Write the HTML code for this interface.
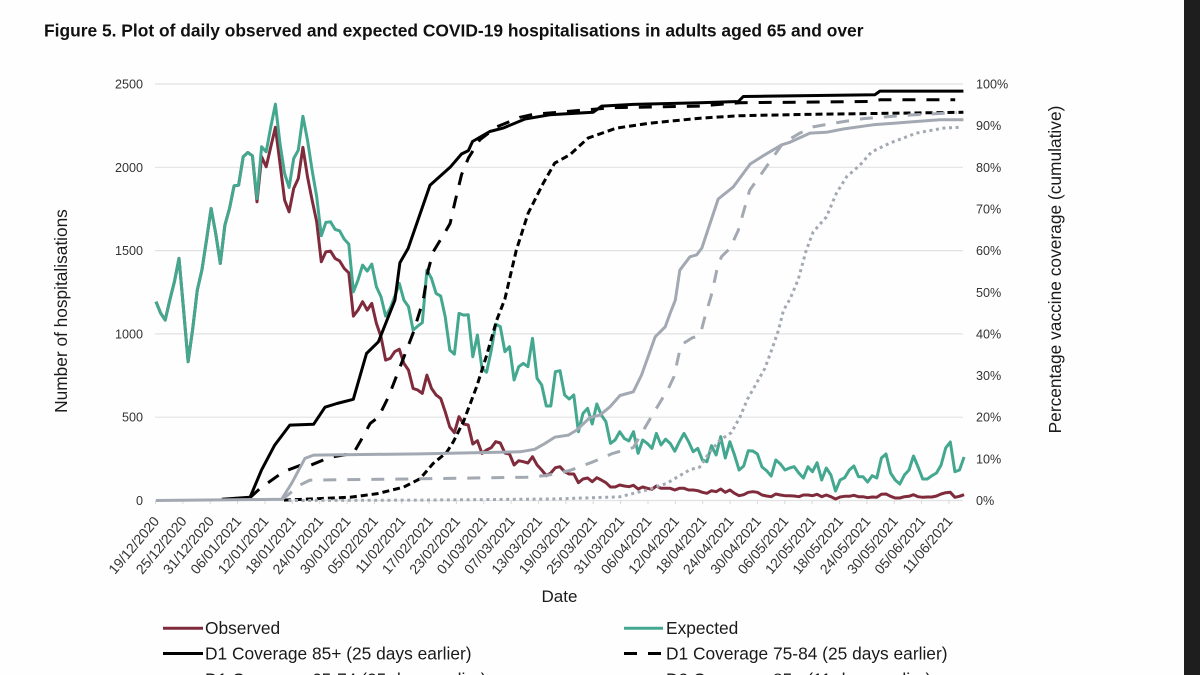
<!DOCTYPE html>
<html lang="en">
<head>
<meta charset="utf-8">
<title>Figure 5</title>
<style>
html,body{margin:0;padding:0;background:#fefefe;}
#stage{position:relative;width:1200px;height:675px;overflow:hidden;background:#fefefe;}
#chart{position:absolute;left:0;top:0;filter:blur(0.35px);}
#edge{position:absolute;left:1184px;top:0;width:16px;height:675px;background:#1e1e1e;}
text{font-family:"Liberation Sans",sans-serif;}
</style>
</head>
<body>
<div id="stage">
<svg id="chart" width="1200" height="675" viewBox="0 0 1200 675" xmlns="http://www.w3.org/2000/svg">
  <text x="44" y="36.5" font-size="17.4" font-weight="700" fill="#111">Figure 5. Plot of daily observed and expected COVID-19 hospitalisations in adults aged 65 and over</text>
  <text transform="translate(67,311) rotate(-90)" font-size="17.3" text-anchor="middle" fill="#1a1a1a">Number of hospitalisations</text>
  <text transform="translate(1061,269.5) rotate(-90)" font-size="17.35" text-anchor="middle" fill="#1a1a1a">Percentage vaccine coverage (cumulative)</text>
  <text x="559.5" y="602" font-size="17" text-anchor="middle" fill="#1a1a1a">Date</text>
  <g id="grid"></g>
  <g id="xticks"></g>
  <g id="yticks"></g>
  <g id="series"></g>
  <g>
    <g>
      <line x1="163" x2="203" y1="628.3" y2="628.3" stroke="#7f2b3c" stroke-width="3"/>
      <text x="205" y="634" font-size="17.35" fill="#1a1a1a">Observed</text>
    </g>
    <g>
      <line x1="624" x2="663" y1="628.3" y2="628.3" stroke="#44a78f" stroke-width="3"/>
      <text x="666" y="634" font-size="17.35" fill="#1a1a1a">Expected</text>
    </g>
    <g>
      <line x1="163" x2="203" y1="653.5" y2="653.5" stroke="#000" stroke-width="3"/>
      <text x="205" y="659.7" font-size="17.35" fill="#1a1a1a">D1 Coverage 85+ (25 days earlier)</text>
    </g>
    <g>
      <line x1="624" x2="663" y1="653.5" y2="653.5" stroke="#000" stroke-width="3" stroke-dasharray="13 11"/>
      <text x="666" y="659.7" font-size="17.35" fill="#1a1a1a">D1 Coverage 75-84 (25 days earlier)</text>
    </g>
    <g>
      <line x1="163" x2="203" y1="679" y2="679" stroke="#000" stroke-width="3" stroke-dasharray="7 4"/>
      <text x="205" y="685.3" font-size="17.35" fill="#1a1a1a">D1 Coverage 65-74 (25 days earlier)</text>
    </g>
    <g>
      <line x1="624" x2="663" y1="679" y2="679" stroke="#a3a9b2" stroke-width="3"/>
      <text x="666" y="685.3" font-size="17.35" fill="#1a1a1a">D2 Coverage 85+ (11 days earlier)</text>
    </g>
  </g>
</svg>
<div id="edge"></div>
</div>
<script>
const tickLabels = ["19/12/2020","25/12/2020","31/12/2020","06/01/2021","12/01/2021","18/01/2021","24/01/2021","30/01/2021","05/02/2021","11/02/2021","17/02/2021","23/02/2021","01/03/2021","07/03/2021","13/03/2021","19/03/2021","25/03/2021","31/03/2021","06/04/2021","12/04/2021","18/04/2021","24/04/2021","30/04/2021","06/05/2021","12/05/2021","18/05/2021","24/05/2021","30/05/2021","05/06/2021","11/06/2021"];
const leftTicks = [0,500,1000,1500,2000,2500];
const rightTicks = [0,10,20,30,40,50,60,70,80,90,100];

const expected = [1193,1125,1083,1203,1313,1453,1150,833,1030,1263,1383,1563,1753,1603,1423,1653,1753,1889,1893,2063,2089,2069,1813,2123,2093,2243,2379,2143,1963,1879,2053,2103,2307,2163,1983,1823,1589,1669,1673,1627,1619,1569,1539,1253,1323,1413,1377,1419,1283,1223,1107,1153,1223,1303,1203,1163,1023,1047,1067,1383,1333,1243,1227,1103,903,879,1123,1113,1115,863,993,793,770,900,1059,1043,893,923,723,803,823,803,973,733,693,567,567,773,779,633,609,633,413,523,553,459,579,513,473,343,363,413,373,358,413,283,363,343,313,403,333,368,343,296,353,403,353,293,313,243,233,329,273,383,255,353,273,183,207,299,297,279,201,179,147,243,219,183,195,203,165,135,203,173,227,123,195,153,57,123,137,183,207,143,143,111,149,135,255,279,165,123,99,153,183,267,201,129,129,149,165,213,315,351,173,183,261];
const observed = [1193,1125,1083,1203,1313,1453,1150,833,1030,1263,1383,1563,1753,1603,1423,1653,1753,1889,1893,2063,2089,2069,1793,2063,2003,2123,2240,2023,1803,1733,1873,1933,2120,1943,1803,1673,1433,1493,1497,1453,1438,1393,1367,1107,1143,1193,1143,1183,1063,983,843,853,893,908,823,783,673,663,643,753,673,633,613,533,441,407,503,459,453,339,359,283,303,317,353,345,285,279,213,239,233,225,263,213,183,149,165,197,203,173,159,159,107,129,135,113,137,123,107,81,81,93,87,83,91,69,81,73,67,87,73,73,73,63,73,73,63,63,59,49,43,59,53,69,49,63,43,29,35,49,53,49,33,27,23,39,33,29,29,27,23,33,33,29,37,23,33,23,9,21,25,25,31,23,23,17,21,19,37,39,25,15,15,23,25,35,23,19,21,21,27,39,47,49,19,25,35];

const d1Age85Days = [14.4,20.6,23.1,26,29.3,34.5,37,39.6,43.2,46.1,48.7,52.3,53.4,55.2,60,64.4,66.9,68.4,69.3,73.1,76,80.8,86.2,95.7,97.6,104.5,119.1,127.5,128.6,157.4,158.5,176.8];
const d1Age85Pct = [0.3,0.8,7.3,13.3,18.1,18.3,22.4,23.3,24.3,35.3,38.1,48.1,57.1,60.5,75.7,80,83.2,84,86.2,88.6,89.4,91.6,92.6,93.2,94.7,95.1,95.5,95.8,97,97.4,98.3,98.3];

const d1Age75Days = [20.5,22.8,27.9,31.5,33.7,38.1,43.2,44.7,46.9,48.7,50.9,54.2,56.3,58.5,59.6,60.7,62.9,64.4,65.4,66.9,68.4,70.9,74.6,79.7,82.6,94.3,100.1,119.1,127.8,157,158.5,175];
const d1Age75Pct = [0.6,2.9,6.9,8.4,8.4,10.4,11.3,14.1,18.5,20,24.9,34.2,40.2,48.1,55.3,59.7,63.7,66.5,71.4,78.2,82.2,86.6,89.7,92,92.7,93.8,94.3,94.7,95.5,95.8,96.2,96.2];

const d1Age65Days = [28,33.7,42.5,48.3,54.2,57.8,60.7,63.6,65.1,67.3,70.2,72.4,74.6,76.4,78.9,81.5,84.8,87.3,90.6,94.6,100.8,108.1,119.1,127.8,142.4,176.8];
const d1Age65Pct = [0.1,0.36,0.8,1.6,3.2,5.2,8.9,11.5,14.1,18.9,27.3,34.9,43.3,48.4,60.1,69,76.2,81,83,87,89.4,90.6,91.8,92.4,92.7,93.2];

const d2Age85Days = [0,27.5,29.7,32.6,34.5,57.8,79.7,82.9,85.2,87.3,90.3,92.1,95,97.2,99.4,101.6,104.5,106.3,109.3,111.5,112.6,113.7,114.7,116.9,118.4,119.5,123.1,126.4,130.1,133.3,137,138.8,143.2,146.8,150.5,157,164.3,171.6,176.8];
const d2Age85Pct = [0,0.3,4.1,10.1,10.9,11.2,11.7,12.3,13.7,15.2,15.7,16.9,19.9,20.5,22.5,25.2,26.1,30.1,39.3,41.7,45,48.1,55.3,58.5,59,60.6,72.4,75.3,80.8,83,85.4,86,88.2,88.4,89.2,90.2,90.8,91.4,91.4];

const d2Age75Days = [27.5,29.3,31.5,33.7,57.8,81.2,85.5,90.6,95.7,100,104.5,106.3,108.9,112.2,113.4,114.7,115.3,117.3,118.7,119.3,120,121.7,122.8,123.8,125.7,127.5,130,132.6,135.5,137.3,141,143.9,148.3,154.9,164.3,175.3];
const d2Age75Pct = [0.2,1.7,3.7,4.9,5.2,5.6,6,7.2,9.3,11.3,12.7,16.1,20.9,26.9,29.7,36.1,37.6,39,39.5,40.3,43.3,49.7,55.3,58.5,60.6,64.9,74.5,78.5,83,85.8,88.2,89.7,90.6,91.7,92.5,93.1];

const d2Age65Days = [29,57.8,87,101.6,107.4,111.8,116.9,119,121.3,123.5,126,127.9,129.5,131.5,133.3,134.8,136.3,137.4,138.8,140.6,142.4,143.9,146.8,149,151.2,154.1,156.7,160.7,166.5,172.4,176];
const d2Age65Pct = [0,0.1,0.36,0.9,2.5,4.1,7.4,8,11.7,14.5,16.3,20.1,24.3,28.2,31.7,36.1,40.9,45.7,48.3,53,60.1,64.5,68.1,73.8,77.7,80.5,83.7,85.8,88.2,89.4,89.6];

const NS = "http://www.w3.org/2000/svg";
const AXIS_LEFT = 155, AXIS_RIGHT = 963, Y_ZERO = 500.5, Y_TOP = 84;
const TICK_STEP_DAYS = 6, DAY_PX = 4.56;
const dailyStretch = 1.0053;

function xDay(d){ return 156 + 4.567 * d; }
function xDaily(i){ return xDay(i * dailyStretch); }
function xTick(k){ return 155.5 + DAY_PX * TICK_STEP_DAYS * k; }
function yLeft(v){ return Y_ZERO - (v / 2500) * (Y_ZERO - Y_TOP); }
function yRight(p){ return Y_ZERO - (p / 100) * (Y_ZERO - Y_TOP); }

function make(tag, parent, attrs){
  const el = document.createElementNS(NS, tag);
  for (const k in attrs) el.setAttribute(k, attrs[k]);
  parent.appendChild(el);
  return el;
}

const gridG = document.getElementById("grid");
const xG = document.getElementById("xticks");
const yG = document.getElementById("yticks");
const seriesG = document.getElementById("series");

leftTicks.forEach(function(v){
  const line = make("line", gridG, {x1:AXIS_LEFT, x2:AXIS_RIGHT, y1:yLeft(v), y2:yLeft(v), stroke:"#e2e2e2", "stroke-width":1.2});
  
  
  const t = make("text", yG, {x:143, y:yLeft(v)+4.5, "font-size":12.6, "text-anchor":"end", fill:"#333"});
  t.textContent = String(v);
  
  
});

rightTicks.forEach(function(p){
  const t = make("text", yG, {x:976, y:yRight(p)+4.5, "font-size":12.6, fill:"#333"});
  t.textContent = p + "%";
  
  
});

tickLabels.forEach(function(label, k){
  const x = xTick(k);
  const tick = make("line", xG, {x1:x, x2:x, y1:Y_ZERO, y2:Y_ZERO+3.5, stroke:"#d8d8d8", "stroke-width":1});
  
  
  const t = make("text", xG, {transform:"translate(" + (x+4.5) + ",521.5) rotate(-50)", "font-size":14, "text-anchor":"end", fill:"#333"});
  t.textContent = label;
  
  
});

function drawDaily(values, color, name){
  const pts = values.map(function(v, i){ return xDaily(i).toFixed(1) + "," + yLeft(v).toFixed(1); }).join(" ");
  const line = make("polyline", seriesG, {points:pts, fill:"none", stroke:color, "stroke-width":3, "stroke-linejoin":"round"});
  
  
}

function drawCoverage(days, pct, color, dash, name){
  const pts = days.map(function(d, i){ return xDay(d).toFixed(1) + "," + yRight(pct[i]).toFixed(1); }).join(" ");
  const line = make("polyline", seriesG, {points:pts, fill:"none", stroke:color, "stroke-width":3, "stroke-linejoin":"round"});
  if (dash) line.setAttribute("stroke-dasharray", dash);
  
  
}

drawDaily(observed, "#7f2b3c", "observed-line");
drawDaily(expected, "#44a78f", "expected-line");
drawCoverage(d1Age65Days, d1Age65Pct, "#000", "7 4", "d1-coverage-65-74-line");
drawCoverage(d1Age75Days, d1Age75Pct, "#000", "13 11", "d1-coverage-75-84-line");
drawCoverage(d1Age85Days, d1Age85Pct, "#000", null, "d1-coverage-85-line");
drawCoverage(d2Age65Days, d2Age65Pct, "#a3a9b2", "3 3.6", "d2-coverage-65-74-line");
drawCoverage(d2Age75Days, d2Age75Pct, "#a3a9b2", "13 11", "d2-coverage-75-84-line");
drawCoverage(d2Age85Days, d2Age85Pct, "#a3a9b2", null, "d2-coverage-85-line");
</script>
</body>
</html>
